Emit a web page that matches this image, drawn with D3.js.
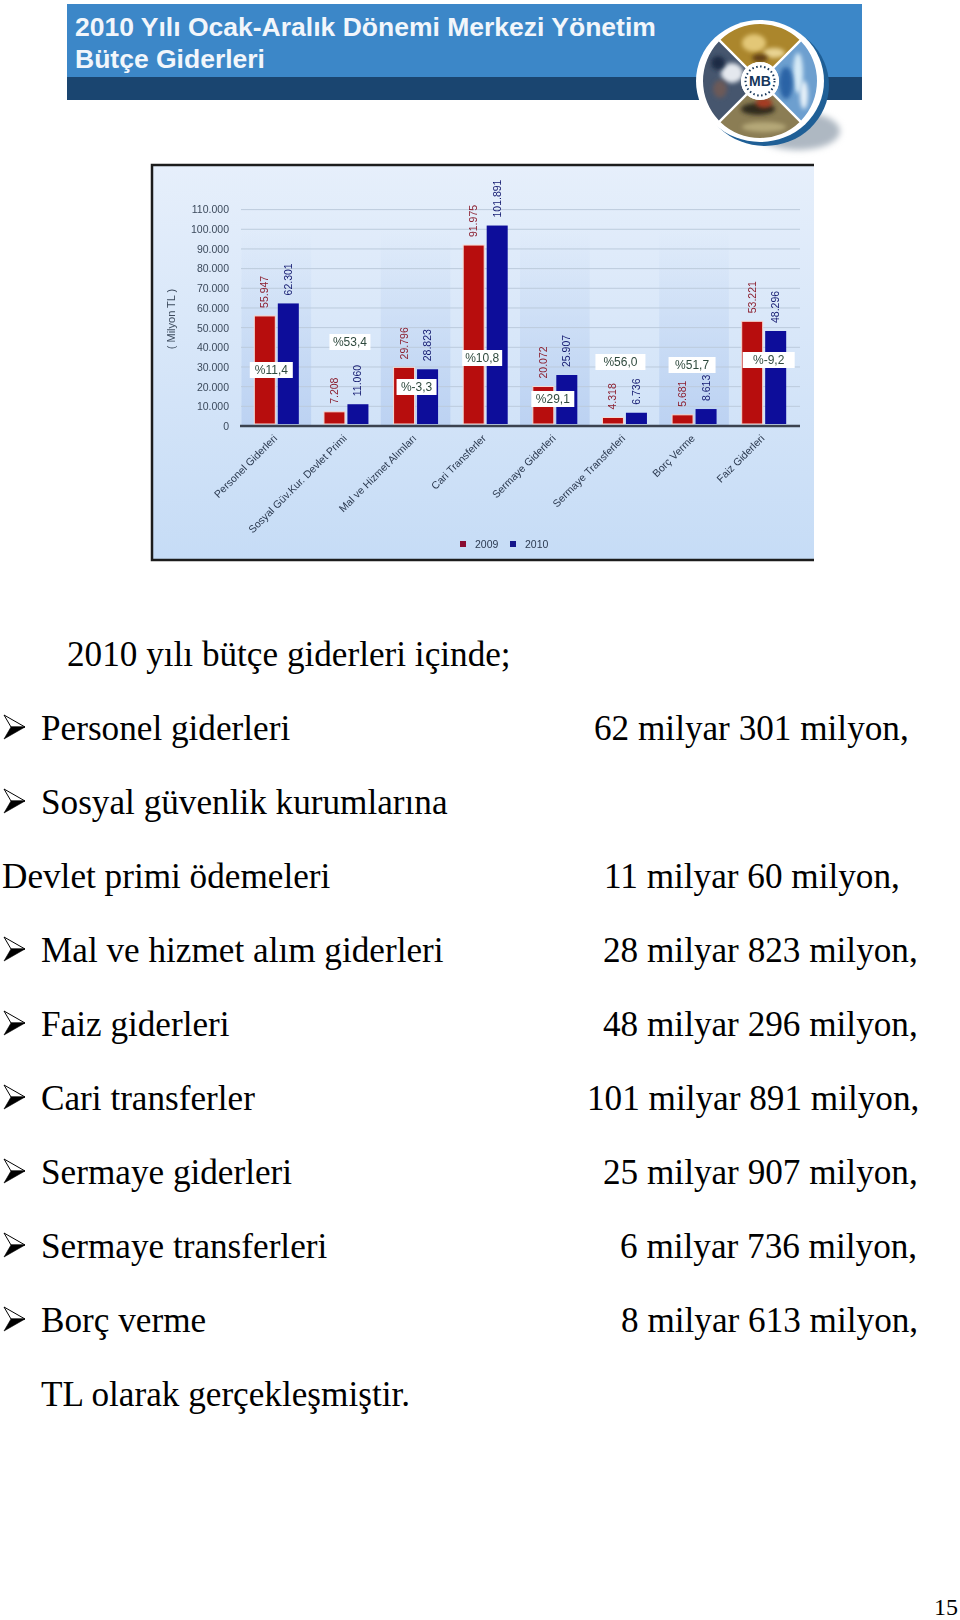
<!DOCTYPE html>
<html>
<head>
<meta charset="utf-8">
<script src="https://cdn.jsdelivr.net/npm/d3@7"></script>
<style>
  html, body { margin: 0; padding: 0; background: #fff; }
  svg { display: block; }
</style>
</head>
<body>
<script>
// Chart data
const categories = ["Personel Giderleri", "Sosyal Güv.Kur. Devlet Primi", "Mal ve Hizmet Alımları", "Cari Transferler",
    "Sermaye Giderleri", "Sermaye Transferleri", "Borç Verme", "Faiz Giderleri"];
const values2009 = [55947, 7208, 29796, 91975, 20072, 4318, 5681, 53221];
const values2010 = [62301, 11060, 28823, 101891, 25907, 6736, 8613, 48296];
const labels2009 = ["55.947", "7.208", "29.796", "91.975", "20.072", "4.318", "5.681", "53.221"];
const labels2010 = ["62.301", "11.060", "28.823", "101.891", "25.907", "6.736", "8.613", "48.296"];
const changes = ["%11,4", "%53,4", "%-3,3", "%10,8", "%29,1", "%56,0", "%51,7", "%-9,2"];
const changeValues = [28470, 42700, 19830, 34570, 13730, 32540, 31010, 33550];
const yTicks = d3.range(0, 110001, 10000);
const seriesNames = ["2009", "2010"];

// Text below the chart
const introText = "2010 yılı bütçe giderleri içinde;";
const textRows = [
    { label: "Personel giderleri", amount: "62 milyar 301 milyon,", bullet: true, ax: 594 },
    { label: "Sosyal güvenlik kurumlarına", amount: "", bullet: true, ax: 0 },
    { label: "Devlet primi ödemeleri", amount: "11 milyar 60 milyon,", bullet: false, ax: 604 },
    { label: "Mal ve hizmet alım giderleri", amount: "28 milyar 823 milyon,", bullet: true, ax: 603 },
    { label: "Faiz giderleri", amount: "48 milyar 296 milyon,", bullet: true, ax: 603 },
    { label: "Cari transferler", amount: "101 milyar 891 milyon,", bullet: true, ax: 587 },
    { label: "Sermaye giderleri", amount: "25 milyar 907 milyon,", bullet: true, ax: 603 },
    { label: "Sermaye transferleri", amount: "6 milyar 736 milyon,", bullet: true, ax: 620 },
    { label: "Borç verme", amount: "8 milyar 613 milyon,", bullet: true, ax: 621 }
];

// Layout of the percent boxes, they are not centred on the groups in the picture
const boxShift = [-5, 4, 1, -3, -2, -4, -2, 5];
const boxWidth = [43, 41, 40, 40, 43, 50, 47, 52];

const svg = d3.select("body").append("svg")
    .attr("width", 960)
    .attr("height", 1620);

const defs = svg.append("defs");

// Soft filter, the chart in the reference is a blurry low-res picture
defs.append("filter").attr("id", "soft")
    .append("feGaussianBlur").attr("stdDeviation", 0.45);
defs.append("filter").attr("id", "softer")
    .attr("x", "-30%").attr("y", "-30%").attr("width", "160%").attr("height", "160%")
    .append("feGaussianBlur").attr("stdDeviation", 3);
defs.append("filter").attr("id", "blob")
    .attr("x", "-50%").attr("y", "-50%").attr("width", "200%").attr("height", "200%")
    .append("feGaussianBlur").attr("stdDeviation", 2.2);

const panelGrad = defs.append("linearGradient").attr("id", "panelGrad")
    .attr("x1", 0).attr("y1", 0).attr("x2", 0).attr("y2", 1);
panelGrad.append("stop").attr("offset", "0%").attr("stop-color", "#e6effb");
panelGrad.append("stop").attr("offset", "100%").attr("stop-color", "#c6dcf6");

const stripeGrad = defs.append("linearGradient").attr("id", "stripeGrad")
    .attr("x1", 0).attr("y1", 0).attr("x2", 0).attr("y2", 1);
stripeGrad.append("stop").attr("offset", "0%").attr("stop-color", "#c2d6f2").attr("stop-opacity", 0);
stripeGrad.append("stop").attr("offset", "100%").attr("stop-color", "#bcd2f2").attr("stop-opacity", 1);

// ---- Header banner ----
const header = svg.append("g");
header.append("rect").attr("x", 67).attr("y", 4).attr("width", 795).attr("height", 73).attr("fill", "#3c87c8");
header.append("rect").attr("x", 67).attr("y", 77).attr("width", 795).attr("height", 23).attr("fill", "#1a4570");
header.selectAll("text")
    .data(["2010 Yılı Ocak-Aralık Dönemi Merkezi Yönetim", "Bütçe Giderleri"])
    .enter().append("text")
    .attr("x", 75)
    .attr("y", (d, i) => 36 + i * 32)
    .attr("fill", "#f2f6fb")
    .style("font-family", "'Liberation Sans', sans-serif")
    .style("font-weight", "bold")
    .style("font-size", "26.5px")
    .text(d => d);

// ---- Logo ----
const logo = svg.append("g").attr("transform", "translate(760,81)");
logo.append("ellipse").attr("cx", 38).attr("cy", 50).attr("rx", 42).attr("ry", 19)
    .attr("fill", "#aeb8c2").attr("filter", "url(#softer)");
logo.append("ellipse").attr("cx", 5).attr("cy", 4).attr("rx", 64).attr("ry", 61).attr("fill", "#1f5f96");
logo.append("ellipse").attr("rx", 64).attr("ry", 61).attr("fill", "#fff");

const quadColors = ["#ab862c", "#6d9fcf", "#8b7d54", "#46566e"];
const quadSpots = [
    [{ x: -6, y: -38, rx: 12, ry: 9, c: "#e3c777" }, { x: 14, y: -28, rx: 11, ry: 5, c: "#e9d493" }, { x: 0, y: -23, rx: 8, ry: 4, c: "#5e3c12" }],
    [{ x: 38, y: -8, rx: 5, ry: 20, c: "#d7ebf7" }, { x: 26, y: 2, rx: 7, ry: 16, c: "#2c64a6" }, { x: 44, y: 14, rx: 4, ry: 14, c: "#e8f2f9" }],
    [{ x: -2, y: 28, rx: 17, ry: 6, c: "#2e2a1c" }, { x: 4, y: 22, rx: 8, ry: 5, c: "#a53a22" }, { x: 4, y: 46, rx: 22, ry: 5, c: "#b5a878" }],
    [{ x: -28, y: -8, rx: 11, ry: 10, c: "#e4e8ee" }, { x: -40, y: 8, rx: 7, ry: 9, c: "#6c5a58" }, { x: -42, y: -18, rx: 7, ry: 7, c: "#1d2b44" }]
];
const quadArc = d3.arc().innerRadius(19).outerRadius(57).padAngle(0.04);
quadColors.forEach((color, i) => {
    const start = -Math.PI / 4 + i * Math.PI / 2;
    const clip = defs.append("clipPath").attr("id", `quad${i}`);
    clip.append("path").attr("d", quadArc({ startAngle: start, endAngle: start + Math.PI / 2 }));
    const q = logo.append("g").attr("clip-path", `url(#quad${i})`);
    q.append("rect").attr("x", -60).attr("y", -60).attr("width", 120).attr("height", 120).attr("fill", color);
    q.selectAll("ellipse")
        .data(quadSpots[i])
        .enter().append("ellipse")
        .attr("cx", d => d.x).attr("cy", d => d.y)
        .attr("rx", d => d.rx).attr("ry", d => d.ry)
        .attr("fill", d => d.c)
        .attr("filter", "url(#blob)");
});
logo.append("circle").attr("r", 19).attr("fill", "#fff");
logo.append("circle").attr("r", 14.5).attr("fill", "none")
    .attr("stroke", "#16365a").attr("stroke-width", 2).attr("stroke-dasharray", "1.5 2.5");
logo.append("text").attr("text-anchor", "middle").attr("y", 5)
    .attr("fill", "#16365a")
    .style("font-family", "'Liberation Sans', sans-serif")
    .style("font-weight", "bold")
    .style("font-size", "14px")
    .text("MB");

// ---- Chart ----
const frame = { left: 152, top: 165, right: 814, bottom: 560 };
const chart = svg.append("g").attr("filter", "url(#soft)");

chart.append("rect")
    .attr("x", frame.left).attr("y", frame.top)
    .attr("width", frame.right - frame.left).attr("height", frame.bottom - frame.top)
    .attr("fill", "url(#panelGrad)");
// frame only on left, top and bottom, the picture is cut off on the right
chart.append("path")
    .attr("d", `M${frame.right},${frame.top}H${frame.left}V${frame.bottom}H${frame.right}`)
    .attr("fill", "none").attr("stroke", "#1c1c1c").attr("stroke-width", 2.5);

const x = d3.scaleBand().domain(categories).range([241.5, 798.5]);
const y = d3.scaleLinear().domain([0, 110000]).range([426, 209.6]);
const barW = 21;

// alternating plot stripes
chart.selectAll("rect.stripe")
    .data(categories.filter((d, i) => i % 2 === 0))
    .enter().append("rect")
    .attr("class", "stripe")
    .attr("x", d => x(d))
    .attr("y", y(100000))
    .attr("width", x.bandwidth())
    .attr("height", y(0) - y(100000))
    .attr("fill", "url(#stripeGrad)");

// gridlines
chart.selectAll("line.grid")
    .data(yTicks.filter(d => d > 0))
    .enter().append("line")
    .attr("class", "grid")
    .attr("x1", 241).attr("x2", 800)
    .attr("y1", d => y(d)).attr("y2", d => y(d))
    .attr("stroke", "#bccbdc").attr("stroke-width", 1);

// y axis
const yAxis = chart.append("g")
    .attr("transform", "translate(229,0)")
    .call(d3.axisLeft(y).tickValues(yTicks).tickSize(0).tickPadding(0)
        .tickFormat(d => d3.format(",")(d).replace(/,/g, ".")));
yAxis.select(".domain").remove();
yAxis.selectAll("text")
    .attr("fill", "#3c4a5c")
    .style("font-family", "'Liberation Sans', sans-serif")
    .style("font-size", "10.5px");

chart.append("text")
    .attr("transform", "translate(175,319) rotate(-90)")
    .attr("text-anchor", "middle")
    .attr("fill", "#3c4a5c")
    .style("font-family", "'Liberation Sans', sans-serif")
    .style("font-size", "11px")
    .text("( Milyon TL )");

// bars, 2009 red and 2010 blue, with a pale halo like the source picture
const barData = [
    { values: values2009, labels: labels2009, fill: "#b70f10", text: "#8c2030", off: -22 },
    { values: values2010, labels: labels2010, fill: "#0a0a9a", text: "#141a70", off: 1.5 }
];
barData.forEach(s => {
    const bandMid = d => x(d) + x.bandwidth() / 2 + s.off;
    chart.append("g").selectAll("rect")
        .data(categories)
        .enter().append("rect")
        .attr("x", d => bandMid(d))
        .attr("y", (d, i) => y(s.values[i]))
        .attr("width", barW)
        .attr("height", (d, i) => y(0) - y(s.values[i]) - 2)
        .attr("fill", s.fill)
        .attr("stroke", "#f6d9d2")
        .attr("stroke-width", s.off < 0 ? 1 : 0);

    chart.append("g").selectAll("text")
        .data(categories)
        .enter().append("text")
        .attr("transform", (d, i) => `translate(${bandMid(d) + barW / 2 + 3.5},${y(s.values[i]) - 8}) rotate(-90)`)
        .attr("fill", s.text)
        .style("font-family", "'Liberation Sans', sans-serif")
        .style("font-size", "10.5px")
        .text((d, i) => s.labels[i]);
});

// axis baseline
chart.append("line")
    .attr("x1", 240).attr("x2", 800)
    .attr("y1", y(0)).attr("y2", y(0))
    .attr("stroke", "#3a4350").attr("stroke-width", 2.5);

// percent change boxes
const changeBox = chart.append("g").selectAll("g")
    .data(categories)
    .enter().append("g")
    .attr("transform", (d, i) => `translate(${x(d) + x.bandwidth() / 2 + boxShift[i]},${y(changeValues[i])})`);
changeBox.append("rect")
    .attr("x", (d, i) => -boxWidth[i] / 2).attr("y", -8)
    .attr("width", (d, i) => boxWidth[i]).attr("height", 16)
    .attr("fill", "#fff");
changeBox.append("text")
    .attr("text-anchor", "middle")
    .attr("y", 4)
    .attr("fill", "#2f4a3e")
    .style("font-family", "'Liberation Sans', sans-serif")
    .style("font-size", "12px")
    .text((d, i) => changes[i]);

// slanted category labels
chart.append("g").selectAll("text")
    .data(categories)
    .enter().append("text")
    .attr("text-anchor", "end")
    .attr("transform", d => `translate(${x(d) + x.bandwidth() / 2 + 1.5},${y(0) + 13}) rotate(-45)`)
    .attr("fill", "#2c3a50")
    .style("font-family", "'Liberation Sans', sans-serif")
    .style("font-size", "10.5px")
    .text(d => d);

// legend
const legend = chart.append("g").attr("transform", "translate(0,545)");
const legendColors = ["#8a1030", "#14148a"];
seriesNames.forEach((name, i) => {
    const lx = 460 + i * 50;
    legend.append("rect").attr("x", lx).attr("y", -4).attr("width", 6).attr("height", 6).attr("fill", legendColors[i]);
    legend.append("text").attr("x", lx + 15).attr("y", 3)
        .attr("fill", "#2c3a50")
        .style("font-family", "'Liberation Sans', sans-serif")
        .style("font-size", "10.5px")
        .text(name);
});

// ---- Text block ----
const body = svg.append("g")
    .style("font-family", "'Liberation Serif', serif")
    .style("font-size", "35.2px")
    .attr("fill", "#000");
const rowY = i => 665.7 + i * 74;

body.append("text").attr("x", 67).attr("y", rowY(0)).text(introText);

textRows.forEach((r, i) => {
    const yy = rowY(i + 1);
    body.append("text").attr("x", r.bullet ? 41 : 2).attr("y", yy).text(r.label);
    if (r.amount) body.append("text").attr("x", r.ax).attr("y", yy).text(r.amount);
    if (r.bullet) {
        // arrow bullet
        const b = body.append("g").attr("transform", `translate(4,${yy - 24.7})`);
        b.append("path").attr("d", "M0,0L21,12L7,12Z").attr("fill", "#fff").attr("stroke", "#000").attr("stroke-width", 1);
        b.append("path").attr("d", "M0,24L21,12L7,12Z").attr("fill", "#000").attr("stroke", "#000").attr("stroke-width", 0.6);
    }
});

body.append("text").attr("x", 41).attr("y", rowY(10)).text("TL olarak gerçekleşmiştir.");

svg.append("text")
    .attr("x", 958).attr("y", 1614.5)
    .attr("text-anchor", "end")
    .style("font-family", "'Liberation Serif', serif")
    .style("font-size", "24px")
    .text("15");
</script>
</body>
</html>
